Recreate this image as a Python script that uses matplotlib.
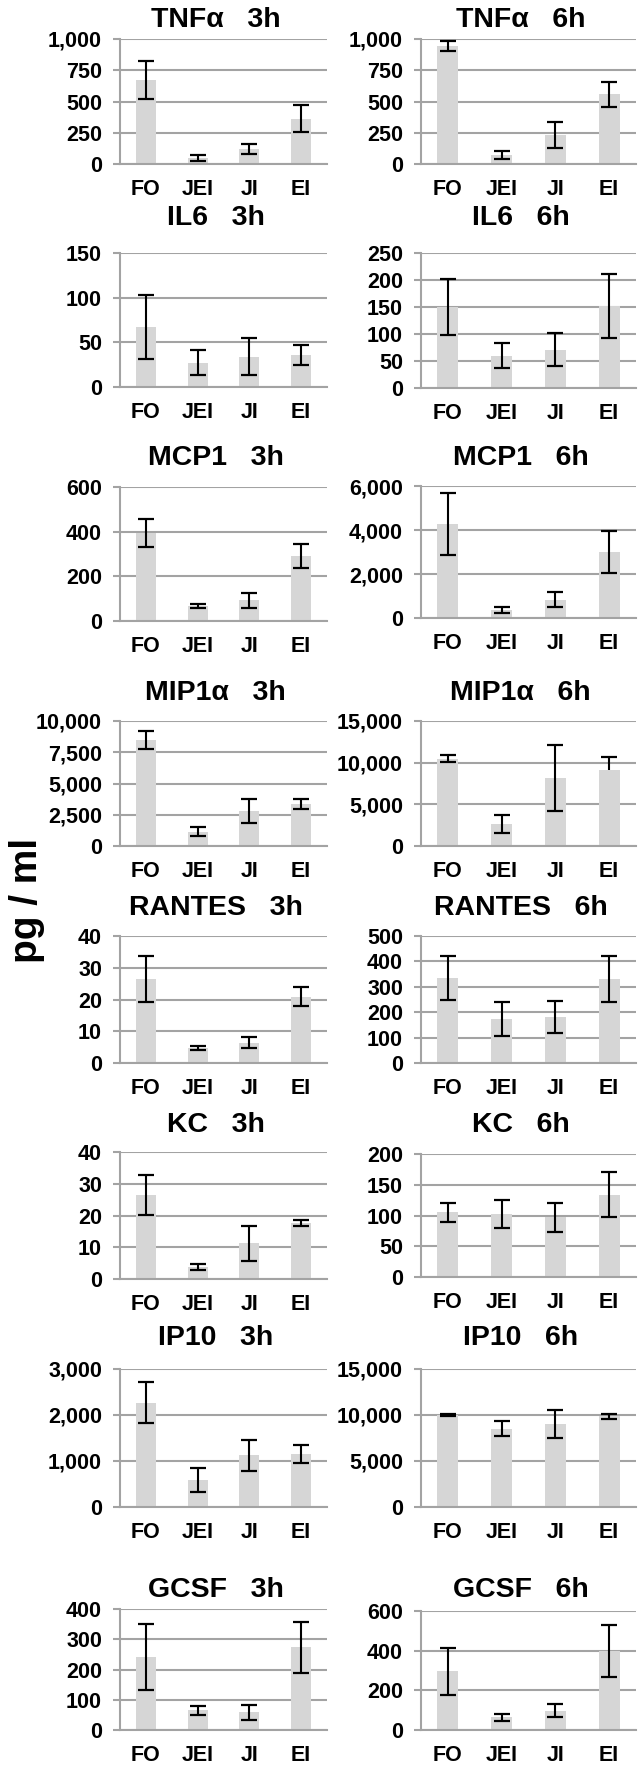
import matplotlib
matplotlib.use("Agg")
import matplotlib.pyplot as plt
import numpy as np
from matplotlib.ticker import FuncFormatter, MultipleLocator

plt.rcParams['font.family'] = ['Liberation Sans', 'DejaVu Sans']
plt.rcParams['font.weight'] = 'bold'

categories = ["FO", "JEI", "JI", "EI"]

tnf_3h = [672, 45, 120, 361]
tnf_3h_err = [150, 24, 40, 108]
tnf_6h = [945, 72, 235, 560]
tnf_6h_err = [38, 32, 105, 100]

il6_3h = [67, 27, 34, 36]
il6_3h_err = [36, 14, 21, 11]
il6_6h = [150, 60, 71, 152]
il6_6h_err = [52, 23, 31, 59]

mcp1_3h = [394, 67, 93, 291]
mcp1_3h_err = [61, 7, 33, 54]
mcp1_6h = [4270, 350, 840, 2985]
mcp1_6h_err = [1420, 136, 354, 950]

mip1a_3h = [8500, 1150, 2800, 3380]
mip1a_3h_err = [730, 346, 944, 385]
mip1a_6h = [10500, 2680, 8150, 9130]
mip1a_6h_err = [460, 1070, 3950, 1550]
mip1a_6h_err_lo = [460, 1070, 3950, 0]

rantes_3h = [26.4, 4.8, 6.4, 20.9]
rantes_3h_err = [7.2, 0.7, 1.7, 2.9]
rantes_6h = [335, 172, 181, 330]
rantes_6h_err = [85, 67, 62, 90]

kc_3h = [26.5, 3.8, 11.2, 17.6]
kc_3h_err = [6.4, 0.85, 5.6, 0.9]
kc_6h = [105, 102, 97, 134]
kc_6h_err = [16, 23, 24, 36]

ip10_3h = [2270, 580, 1120, 1150]
ip10_3h_err = [450, 260, 330, 200]
ip10_6h = [10050, 8500, 9050, 9850]
ip10_6h_err = [110, 800, 1540, 240]

gcsf_3h = [240, 65, 58, 273]
gcsf_3h_err = [109, 15, 24, 83]
gcsf_6h = [295, 64, 98, 398]
gcsf_6h_err = [118, 19, 32, 129]

titles_3h = ["TNFα   3h", "IL6   3h", "MCP1   3h", "MIP1α   3h",
             "RANTES   3h", "KC   3h", "IP10   3h", "GCSF   3h"]
titles_6h = ["TNFα   6h", "IL6   6h", "MCP1   6h", "MIP1α   6h",
             "RANTES   6h", "KC   6h", "IP10   6h", "GCSF   6h"]
y_label = "pg / ml"

# (values, err_hi, err_lo, ymax, step)
left_panels = [
    (tnf_3h, tnf_3h_err, None, 1000, 250),
    (il6_3h, il6_3h_err, None, 150, 50),
    (mcp1_3h, mcp1_3h_err, None, 600, 200),
    (mip1a_3h, mip1a_3h_err, None, 10000, 2500),
    (rantes_3h, rantes_3h_err, None, 40, 10),
    (kc_3h, kc_3h_err, None, 40, 10),
    (ip10_3h, ip10_3h_err, None, 3000, 1000),
    (gcsf_3h, gcsf_3h_err, None, 400, 100),
]
right_panels = [
    (tnf_6h, tnf_6h_err, None, 1000, 250),
    (il6_6h, il6_6h_err, None, 250, 50),
    (mcp1_6h, mcp1_6h_err, None, 6000, 2000),
    (mip1a_6h, mip1a_6h_err, mip1a_6h_err_lo, 15000, 5000),
    (rantes_6h, rantes_6h_err, None, 500, 100),
    (kc_6h, kc_6h_err, None, 200, 50),
    (ip10_6h, ip10_6h_err, None, 15000, 5000),
    (gcsf_6h, gcsf_6h_err, None, 600, 200),
]

W, H = 644, 1770
fig = plt.figure(figsize=(W / 100, H / 100), dpi=100)

# layout in pixels (top, zero-line) per row
rows_left = [(39, 164), (253, 387), (487, 621), (721, 846),
             (936, 1063), (1152, 1279), (1369, 1507), (1609, 1730)]
rows_right = [(39, 164), (253, 388), (486, 618), (721, 846),
              (936, 1063), (1154, 1277), (1369, 1507), (1611, 1730)]
title_y = [20, 218, 458, 693, 908, 1125, 1338, 1590]
col_x = [(120, 327), (421, 636)]

GRID = '#a3a3a3'
BAR = '#d6d6d6'


def draw(ax, vals, ehi, elo, ymax, step):
    x = np.arange(len(categories))
    v = np.array(vals, dtype=float)
    hi = np.array(ehi, dtype=float)
    lo = hi.copy() if elo is None else np.array(elo, dtype=float)
    ax.bar(x, v, width=0.39, color=BAR, zorder=2)
    ax.vlines(x, v - lo, v + hi, color='black', lw=1.5, zorder=3)
    ax.plot(x, v + hi, ls='none', marker='_', ms=12, mew=1.6, color='black', zorder=3)
    m = lo > 0
    ax.plot(x[m], (v - lo)[m], ls='none', marker='_', ms=12, mew=1.6, color='black', zorder=3)
    ax.set_xlim(-0.5, 3.5)
    ax.set_ylim(0, ymax)
    ax.yaxis.set_major_locator(MultipleLocator(step))
    ax.yaxis.set_major_formatter(FuncFormatter(lambda t, p: f"{t:,.0f}"))
    ax.set_xticks(x)
    ax.set_xticklabels(categories, fontsize=15.5, fontweight='bold')
    ax.tick_params(axis='x', length=0, pad=11)
    ax.tick_params(axis='y', length=5, width=1.5, color=GRID, pad=8, labelsize=15.5)
    for lab in ax.get_yticklabels():
        lab.set_fontweight('bold')
    ax.yaxis.grid(True, color=GRID, lw=1.5, zorder=0)
    ax.set_axisbelow(True)
    for s in ['top', 'right']:
        ax.spines[s].set_visible(False)
    for s in ['left', 'bottom']:
        ax.spines[s].set_color(GRID)
        ax.spines[s].set_linewidth(1.5)


for col, (panels, rows, titles) in enumerate([(left_panels, rows_left, titles_3h),
                                               (right_panels, rows_right, titles_6h)]):
    x0, x1 = col_x[col]
    for i, (vals, ehi, elo, ymax, step) in enumerate(panels):
        top, zero = rows[i]
        ax = fig.add_axes([x0 / W, 1 - zero / H, (x1 - x0) / W, (zero - top) / H])
        draw(ax, vals, ehi, elo, ymax, step)
        fig.text(((x0 + x1) / 2 - 8) / W, 1 - title_y[i] / H, titles[i],
                 ha='center', va='center', fontsize=20.5, fontweight='bold')

fig.text(27 / W, 1 - 900 / H, y_label, rotation=90, ha='center', va='center',
         fontsize=28, fontweight='bold')

fig.savefig("out.png", dpi=100, facecolor='white')
